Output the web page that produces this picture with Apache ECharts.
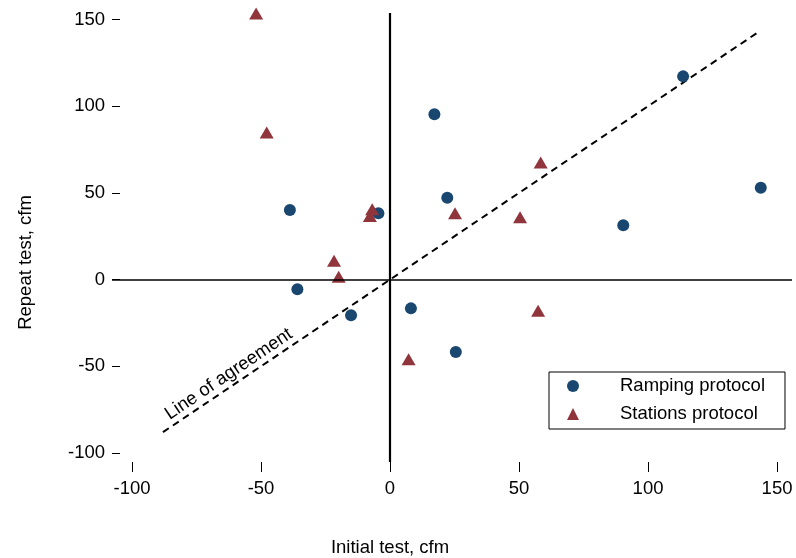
<!DOCTYPE html>
<html>
<head>
<meta charset="utf-8">
<script src="https://cdn.jsdelivr.net/npm/echarts@6/dist/echarts.min.js"></script>
<style>
html,body{margin:0;padding:0;background:#fff;}
#chart{width:796px;height:558px;}
</style>
</head>
<body>
<div id="chart"></div>
<script>
// Ramping protocol: [initial, repeat]
const rampingX = [-38.8, -35.9, -15.1, -4.5, 8.1, 17.2, 22.2, 25.5, 90.4, 113.6, 143.7];
const rampingY = [40.1, -5.6, -20.6, 38.2, -16.6, 95.3, 47.2, -41.8, 31.3, 117.2, 53.0];
// Stations protocol
const stationsX = [-51.9, -47.8, -21.7, -19.9, -6.9, -7.8, 7.2, 25.2, 50.4, 57.4, 58.4];
const stationsY = [153.5, 84.9, 10.9, 1.7, 40.5, 36.7, -46.0, 38.2, 35.9, -17.9, 67.6];
// Line of agreement endpoints
const agreeX = [-88, 143];
const agreeY = [-88, 143];
const agreeLabelPos = [-62.5, -54.5];
const tickValues = [-100, -50, 0, 50, 100, 150];
const xTitle = 'Initial test, cfm';
const yTitle = 'Repeat test, cfm';
const seriesNames = ['Ramping protocol', 'Stations protocol'];

const zip = (a, b) => a.map((v, i) => [v, b[i]]);
const FONT = 'Liberation Sans, Arial, sans-serif';
const FS = 18.5;
const chart = echarts.init(document.getElementById('chart'));
chart.setOption({
  animation: false,
  backgroundColor: '#fff',
  textStyle: {fontFamily: FONT},
  grid: {left: 112, right: 4, top: 13, bottom: 96, containLabel: false, outerBoundsMode: 'none'},
  xAxis: {
    type: 'value', min: -107.75, max: 155.8,
    splitLine: {show: false},
    axisLine: {show: false, onZero: false},
    axisTick: {show: true, length: 10, customValues: tickValues, lineStyle: {color: '#000', width: 1}},
    axisLabel: {customValues: tickValues, color: '#000', fontSize: FS, margin: 17, fontFamily: FONT},
    name: xTitle, nameLocation: 'middle', nameGap: 76,
    nameTextStyle: {color: '#000', fontSize: FS, fontFamily: FONT, padding: [0, 124, 0, 0]}
  },
  yAxis: {
    type: 'value', min: -105.2, max: 153.75,
    splitLine: {show: false},
    axisLine: {show: false, onZero: false},
    axisTick: {show: true, inside: true, length: 8, customValues: tickValues, lineStyle: {color: '#000', width: 1}},
    axisLabel: {customValues: tickValues, color: '#000', fontSize: FS, margin: 7, fontFamily: FONT},
    name: yTitle, nameLocation: 'middle', nameGap: 77,
    nameTextStyle: {color: '#000', fontSize: FS, fontFamily: FONT, padding: [0, 50, 0, 0]}
  },
  legend: {
    orient: 'vertical', left: 549, top: 372,
    borderColor: '#000', borderWidth: 1, borderRadius: 0,
    padding: [4, 20, 5, 18],
    itemWidth: 12, itemHeight: 12, itemGap: 8,
    data: [
      {name: seriesNames[0], icon: 'circle'},
      {name: seriesNames[1], icon: 'triangle'}
    ],
    textStyle: {color: '#000', fontSize: FS, lineHeight: 20, fontFamily: FONT, padding: [0, 0, 0, 36]}
  },
  series: [
    {
      type: 'line', data: zip(agreeX, agreeY), symbol: 'none', silent: true,
      lineStyle: {color: '#000', width: 2, type: [7, 5]},
      z: 1,
      markLine: {
        silent: true, symbol: 'none', animation: false,
        label: {show: false},
        data: [
          {xAxis: 0, lineStyle: {color: '#000', width: 2.2, type: 'solid'}},
          {yAxis: 0, lineStyle: {color: '#000', width: 1.5, type: 'solid'}}
        ]
      }
    },
    {
      type: 'scatter', data: [agreeLabelPos], symbolSize: 1, silent: true,
      itemStyle: {opacity: 0},
      label: {show: true, formatter: 'Line of agreement', position: 'inside', rotate: 33.9,
        color: '#000', opacity: 1, fontSize: FS, fontFamily: FONT}
    },
    {
      name: seriesNames[0], type: 'scatter', data: zip(rampingX, rampingY),
      symbol: 'circle', symbolSize: 12,
      itemStyle: {color: '#1a476f', opacity: 1}, z: 3
    },
    {
      name: seriesNames[1], type: 'scatter', data: zip(stationsX, stationsY),
      symbol: 'triangle', symbolSize: [14, 12],
      itemStyle: {color: '#90353b', opacity: 1}, z: 3
    }
  ]
});
</script>
</body>
</html>
